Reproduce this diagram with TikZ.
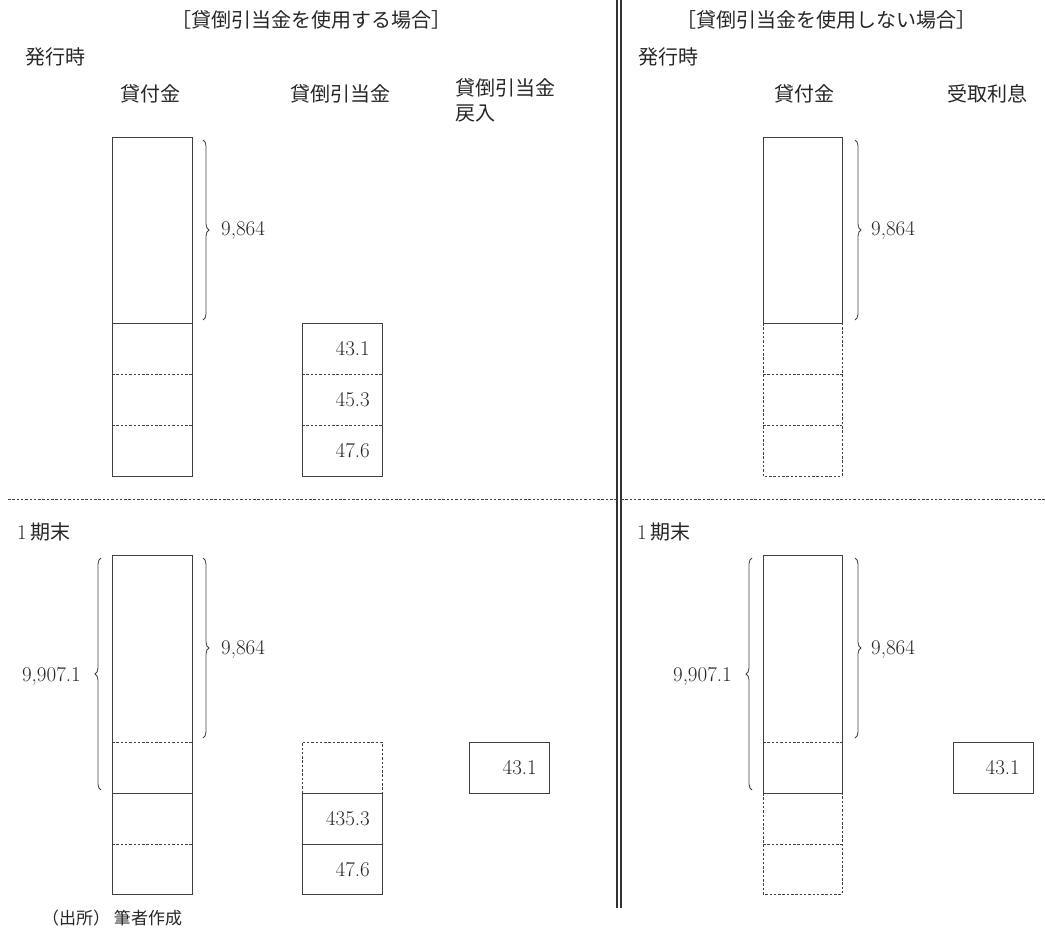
\documentclass[tikz,border=0pt]{standalone}
\usepackage{fontspec}
\newfontfamily\jp{Noto Sans CJK JP}
\usetikzlibrary{decorations.pathreplacing}
\begin{document}
\begin{tikzpicture}[x=1pt,y=-1pt,
 ln/.style={line width=0.9pt,draw=black!75},
 dl/.style={line width=0.9pt,draw=black!75,dash pattern=on 2.5pt off 1.8pt},
 jt/.style={font=\jp\fontsize{20}{25}\selectfont,inner sep=0pt,text=black!85},
 ft/.style={font=\jp\fontsize{17}{20}\selectfont,inner sep=0pt,text=black!85},
 nm/.style={font=\fontsize{21}{24}\selectfont,inner sep=0pt,text=black!85},
 br/.style={line width=0.8pt,draw=black!75,decorate,decoration={brace,amplitude=6pt}},
]
\useasboundingbox (0,0) rectangle (1045,934);

% separators
\coordinate (vt1) at (617,0); \coordinate (vb1) at (617,908);
\coordinate (vt2) at (621,0); \coordinate (vb2) at (621,908);
\draw[line width=1.1pt,black!80] (vt1) -- (vb1) (vt2) -- (vb2);
\coordinate (hl1) at (8,499); \coordinate (hl2) at (617,499);
\coordinate (hr1) at (621,499); \coordinate (hr2) at (1045,499);
\draw[dl] (hl1) -- (hl2) (hr1) -- (hr2);

% titles and headings
\node[jt] (tL) at (311,20) {［貸倒引当金を使用する場合］};
\node[jt] (tR) at (826,20) {［貸倒引当金を使用しない場合］};
\node[jt,anchor=west] (hL) at (25,57) {発行時};
\node[jt,anchor=west] (hR) at (638,57) {発行時};
\node[jt] (cL1) at (150,94) {貸付金};
\node[jt] (cL2) at (340,94) {貸倒引当金};
\node[jt,anchor=west,align=left] (cL3) at (455,100) {貸倒引当金\\戻入};
\node[jt] (cR1) at (804,94) {貸付金};
\node[jt] (cR2) at (987,94) {受取利息};
\node[jt,anchor=west] (pL) at (17,532) {{\normalfont\fontsize{21}{24}\selectfont 1}\hspace{4pt}期末};
\node[jt,anchor=west] (pR) at (637,532) {{\normalfont\fontsize{21}{24}\selectfont 1}\hspace{4pt}期末};
\node[ft,anchor=west] (src) at (42,918) {（出所）\ 筆者作成};

% ---------- top left ----------
\draw[ln] (112,137) rectangle (192,476);
\draw[ln] (112,323) -- (192,323);
\draw[dl] (112,374) -- (192,374) (112,425) -- (192,425);
\draw[ln] (302,323) rectangle (382,476);
\draw[dl] (302,374) -- (382,374) (302,425) -- (382,425);
\node[nm,anchor=east] (a1) at (370,349) {43.1};
\node[nm,anchor=east] (a2) at (370,400) {45.3};
\node[nm,anchor=east] (a3) at (370,451) {47.6};
\coordinate (b1t) at (203,140); \coordinate (b1b) at (203,320);
\draw[br] (b1t) -- (b1b);
\node[nm,anchor=west] (n1) at (221,231) {9,864};

% ---------- top right ----------
\draw[ln] (763,137) rectangle (842,323);
\draw[dl] (763,323) -- (763,476) -- (842,476) -- (842,323);
\draw[dl] (763,374) -- (842,374) (763,425) -- (842,425);
\coordinate (b2t) at (855,140); \coordinate (b2b) at (855,320);
\draw[br] (b2t) -- (b2b);
\node[nm,anchor=west] (n2) at (871,231) {9,864};

% ---------- bottom left ----------
\draw[ln] (112,555) rectangle (192,894);
\draw[dl] (112,742) -- (192,742);
\draw[ln] (112,793) -- (192,793);
\draw[dl] (112,844) -- (192,844);
\draw[dl] (302,793) -- (302,742) -- (382,742) -- (382,793);
\draw[ln] (302,793) rectangle (382,894);
\draw[ln] (302,844) -- (382,844);
\node[nm,anchor=east] (a4) at (370,819) {435.3};
\node[nm,anchor=east] (a5) at (370,870) {47.6};
\draw[ln] (469,742) rectangle (549,793);
\node[nm,anchor=east] (a6) at (537,768) {43.1};
\coordinate (b3t) at (203,558); \coordinate (b3b) at (203,738);
\draw[br] (b3t) -- (b3b);
\node[nm,anchor=west] (n3) at (221,650) {9,864};
\coordinate (b4t) at (101,558); \coordinate (b4b) at (101,790);
\draw[br] (b4b) -- (b4t);
\node[nm,anchor=east] (n4) at (81,676) {9,907.1};

% ---------- bottom right ----------
\draw[ln] (763,555) rectangle (842,793);
\draw[dl] (763,742) -- (842,742);
\draw[dl] (763,793) -- (763,894) -- (842,894) -- (842,793);
\draw[dl] (763,844) -- (842,844);
\draw[ln] (953,742) rectangle (1033,793);
\node[nm,anchor=east] (a7) at (1020,768) {43.1};
\coordinate (b5t) at (855,558); \coordinate (b5b) at (855,738);
\draw[br] (b5t) -- (b5b);
\node[nm,anchor=west] (n5) at (871,650) {9,864};
\coordinate (b6t) at (752,558); \coordinate (b6b) at (752,790);
\draw[br] (b6b) -- (b6t);
\node[nm,anchor=east] (n6) at (732,676) {9,907.1};
\end{tikzpicture}
\end{document}
